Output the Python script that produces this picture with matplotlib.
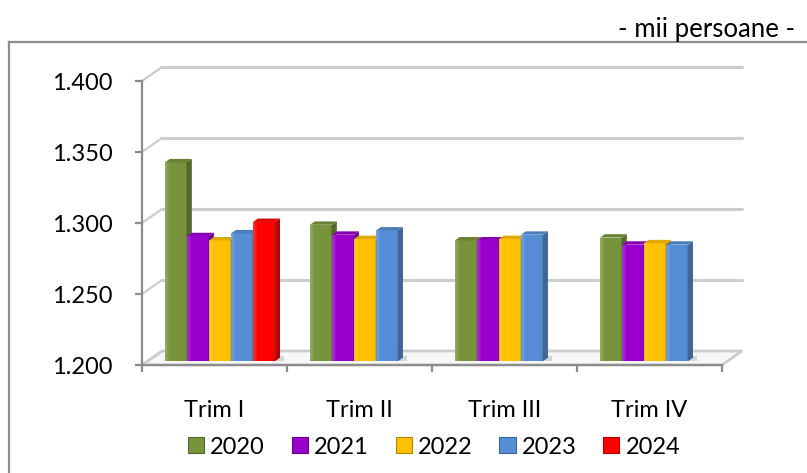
import numpy as np
import matplotlib
matplotlib.use("Agg")
import matplotlib.pyplot as plt
from matplotlib.patches import Polygon, Patch
from matplotlib.lines import Line2D
import matplotlib.colors as mcolors

plt.rcParams['font.family'] = ['Lato', 'DejaVu Sans']

categories = ["Trim I", "Trim II", "Trim III", "Trim IV"]
series_names = ["2020", "2021", "2022", "2023", "2024"]
v2020 = [1340, 1296, 1285, 1287]
v2021 = [1288, 1289, 1285, 1282]
v2022 = [1285, 1286, 1286, 1283]
v2023 = [1290, 1292, 1289, 1282]
v2024 = [1298, None, None, None]
series_values = [v2020, v2021, v2022, v2023, v2024]
colors = ["#77933C", "#9900CC", "#FFC000", "#558ED5", "#FF0000"]
yticks = [1200, 1250, 1300, 1350, 1400]
ytick_labels = ["1.200", "1.250", "1.300", "1.350", "1.400"]
unit_label = "- mii persoane -"

W, H = 807, 473
fig = plt.figure(figsize=(W / 100, H / 100), dpi=100)

# axes: x 0..4 -> px 142..722 ; y 1200..1400 -> px 365..81
x0, x1 = 142, 722
yb, yt = 365, 81
ax = fig.add_axes([x0 / W, (H - yb) / H, (x1 - x0) / W, (yb - yt) / H])
ax.set_xlim(0, 4)
ax.set_ylim(1200, 1400)
for s in ax.spines.values():
    s.set_visible(False)

pxx = (x1 - x0) / 4.0
pxy = (yb - yt) / 200.0
DX = 20 / pxx
DY = 14 / pxy

grid_c = "#CDCDCD"
axis_c = "#8C8C8C"
FS = 17

# floor
floor = Polygon([(0, 1200), (4, 1200), (4 + DX, 1200 + DY), (DX, 1200 + DY)],
                closed=True, facecolor="#F7F7F7", edgecolor=grid_c, lw=2.0,
                clip_on=False, zorder=1)
ax.add_patch(floor)

# back-wall gridlines and left-wall diagonals
for t in yticks:
    if t > 1200:
        ax.plot([DX, 4 + DX], [t + DY, t + DY], color=grid_c, lw=2.2,
                solid_capstyle='round', clip_on=False, zorder=1)
    ax.plot([0, DX], [t, t + DY], color=grid_c, lw=1.6, clip_on=False, zorder=1)

# front axes
ax.plot([0, 0], [1200, 1400], color=axis_c, lw=1.6, clip_on=False, zorder=2)
ax.plot([0, 4], [1200, 1200], color=axis_c, lw=1.6, clip_on=False, zorder=2)

ax.set_yticks(yticks)
ax.set_yticklabels(ytick_labels)
ax.tick_params(axis='y', length=5, width=1.6, color=axis_c, pad=16, labelsize=FS)
ax.set_xticks([0, 1, 2, 3, 4])
ax.set_xticklabels([])
ax.tick_params(axis='x', which='major', length=5, width=1.6, color=axis_c)
ax.set_xticks([0.5, 1.5, 2.5, 3.5], minor=True)
ax.set_xticklabels(categories, minor=True)
ax.tick_params(axis='x', which='minor', length=0, pad=25, labelsize=FS)

# bars
step = 0.152
f0, f1 = 0.28, 0.52


def shade(c, k):
    r, g, b = mcolors.to_rgb(c)
    return (r * k, g * k, b * k)


for ci in range(len(categories)):
    for si, vals in enumerate(series_values):
        v = vals[ci]
        if v is None:
            continue
        xl = ci + 0.5 - 2.5 * step + si * step
        xr = xl + step
        col = colors[si]
        # floor shadow
        sh = Polygon([(xl + f0 * DX, 1200 + f0 * DY), (xr + f1 * DX + 0.03, 1200 + f0 * DY),
                      (xr + f1 * DX + 0.03, 1200 + f1 * DY + 1), (xl + f1 * DX, 1200 + f1 * DY + 1)],
                     closed=True, facecolor="#D5D5D5", edgecolor='none', clip_on=False, zorder=3)
        ax.add_patch(sh)
        bar = ax.bar(xl + f0 * DX, v - 1200, width=step, bottom=1200 + f0 * DY,
                     align='edge', color=col, edgecolor='none', clip_on=False, zorder=4)[0]
        # bevel gradient on front face
        grad = np.zeros((1, 50, 4))
        xs = np.linspace(0, 1, 50)
        alpha_w = np.clip(0.22 - xs * 1.1, 0, 1)
        alpha_b = np.clip((xs - 0.88) * 1.6, 0, 1)
        grad[0, :, :3] = np.where(alpha_b[:, None] > 0, 0.0, 1.0)
        grad[0, :, 3] = alpha_w + alpha_b
        im = ax.imshow(grad, extent=[xl + f0 * DX, xr + f0 * DX, 1200 + f0 * DY, v + f0 * DY],
                       aspect='auto', zorder=4.1, interpolation='bilinear')
        im.set_clip_path(bar)
        # side face
        side = Polygon([(xr + f0 * DX, 1200 + f0 * DY), (xr + f1 * DX, 1200 + f1 * DY),
                        (xr + f1 * DX, v + f1 * DY), (xr + f0 * DX, v + f0 * DY)],
                       closed=True, facecolor=shade(col, 0.72), edgecolor='none',
                       clip_on=False, zorder=4)
        ax.add_patch(side)
        # top face
        top = Polygon([(xl + f0 * DX, v + f0 * DY), (xr + f0 * DX, v + f0 * DY),
                       (xr + f1 * DX, v + f1 * DY), (xl + f1 * DX, v + f1 * DY)],
                      closed=True, facecolor=shade(col, 0.88), edgecolor='none',
                      clip_on=False, zorder=4)
        ax.add_patch(top)

ax.set_xlim(0, 4)
ax.set_ylim(1200, 1400)

# legend
handles = [Patch(facecolor=c, edgecolor=shade(c, 0.7), lw=0.8) for c in colors]
fig.legend(handles, series_names, loc='center', bbox_to_anchor=(434 / W, 1 - 447 / H),
           ncol=5, frameon=False, fontsize=FS, handlelength=0.68, handleheight=0.68,
           handletextpad=0.25, columnspacing=1.15)

# unit label
fig.text(795 / W, 1 - 29 / H, unit_label, ha='right', va='center', fontsize=18.5)

# outer chart border (top and left visible)
fig.add_artist(Line2D([9 / W, 1.0], [1 - 42 / H, 1 - 42 / H], color=axis_c, lw=1.6))
fig.add_artist(Line2D([9 / W, 9 / W], [1 - 42 / H, 0.0], color=axis_c, lw=1.6))

fig.savefig("out.png", dpi=100)
